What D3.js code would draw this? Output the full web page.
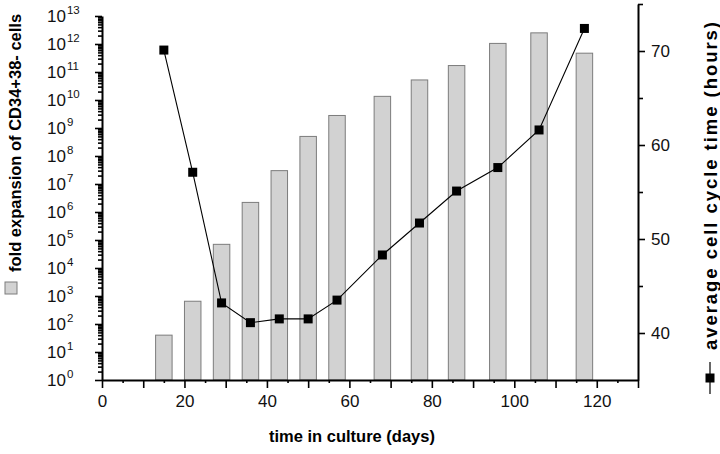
<!DOCTYPE html>
<html>
<head>
<meta charset="utf-8">
<script src="https://cdn.jsdelivr.net/npm/d3@7"></script>
<style>
  body { margin: 0; background: #fff; }
  svg { display: block; font-family: 'Liberation Sans', Arial, sans-serif; }
</style>
</head>
<body>
<script>
(function() {
  var days, foldExpansion, cycleTime, xLabelEvery, rightLabels, decades;
  var svg, x, yLeft, yRight, barColor, barStroke, xAxis, leftAxis, rightAxis, logTicks, line;

  // values
  days = [15, 22, 29, 36, 43, 50, 57, 68, 77, 86, 96, 106, 117];
  foldExpansion = [40, 650, 7e4, 2.2e6, 3e7, 5e8, 2.8e9, 1.35e10, 5.2e10, 1.7e11, 1.05e12, 2.5e12, 4.7e11];
  cycleTime = [70.1, 57.1, 43.2, 41.1, 41.5, 41.5, 43.5, 48.3, 51.7, 55.1, 57.6, 61.6, 72.4];
  xLabelEvery = 20;
  rightLabels = [40, 50, 60, 70];
  decades = d3.range(0, 14);

  barColor = '#d2d2d2';
  barStroke = '#7c7c7c';

  svg = d3.select('body').append('svg').attr('width', 720).attr('height', 454);

  x = d3.scaleLinear().domain([0, 130]).range([102, 638]);
  yLeft = d3.scaleLog().domain([1, 1e13]).range([380, 16]);
  yRight = d3.scaleLinear().domain([35, 75]).range([380, 4]);

  // bars, 4 days wide
  svg.append('g').selectAll('rect').data(days).enter().append('rect')
    .attr('x', function(d) { return x(d - 2); })
    .attr('width', x(4) - x(0))
    .attr('y', function(d, i) { return yLeft(foldExpansion[i]); })
    .attr('height', function(d, i) { return yLeft(1) - yLeft(foldExpansion[i]); })
    .attr('fill', barColor)
    .attr('stroke', barStroke)
    .attr('stroke-width', 1);

  // bottom axis
  xAxis = svg.append('g').attr('transform', 'translate(0,' + yLeft(1) + ')')
    .call(d3.axisBottom(x).tickValues(d3.range(0, 131, 5)).tickSizeOuter(0)
      .tickFormat(function(d) { return d % xLabelEvery === 0 ? d : ''; }));
  xAxis.selectAll('.tick line').attr('y2', function(d) { return d % 10 === 0 ? 8 : 3; });
  xAxis.selectAll('.tick text').attr('y', 15).attr('font-size', 17).attr('font-family', null);

  // left log axis
  logTicks = [];
  decades.forEach(function(k) {
    var m;
    for (m = 1; m <= 9; m++) {
      if (k === 13 && m > 1) break;
      logTicks.push(m * Math.pow(10, k));
    }
  });
  leftAxis = svg.append('g').attr('transform', 'translate(' + x(0) + ',0)')
    .call(d3.axisLeft(yLeft).tickValues(logTicks).tickSizeOuter(0).tickFormat(''));
  leftAxis.selectAll('.tick line').attr('x2', function(d) {
    var e = Math.log10(d);
    return Math.abs(e - Math.round(e)) < 1e-9 ? -7 : -4;
  });

  svg.append('g').selectAll('text').data(decades).enter().append('text')
    .attr('x', 47)
    .attr('y', function(k) { return yLeft(Math.pow(10, k)) + 6; })
    .attr('font-size', 17)
    .attr('fill', '#111')
    .each(function(k) {
      var t = d3.select(this);
      t.append('tspan').text('10');
      t.append('tspan').attr('dx', 1).attr('dy', -8).attr('font-size', 11.5).text(k);
    });

  // right axis
  rightAxis = svg.append('g').attr('transform', 'translate(' + x(130) + ',0)')
    .call(d3.axisRight(yRight).tickValues(d3.range(40, 76, 5)).tickSizeOuter(0)
      .tickFormat(function(d) { return rightLabels.indexOf(d) >= 0 ? d : ''; }));
  rightAxis.selectAll('.tick line').attr('x2', function(d) { return rightLabels.indexOf(d) >= 0 ? 7 : 5; });
  rightAxis.selectAll('.tick text').attr('x', 13).attr('font-size', 17).attr('font-family', null);

  [xAxis, leftAxis, rightAxis].forEach(function(g) {
    g.select('.domain').attr('stroke-width', 2);
    g.selectAll('.tick line').attr('stroke-width', 1.6);
    g.attr('font-family', null).attr('font-size', null);
    g.selectAll('.tick text').attr('fill', '#111');
  });

  // cycle time line
  line = d3.line()
    .x(function(d, i) { return x(days[i]); })
    .y(function(d) { return yRight(d); });
  svg.append('path').datum(cycleTime)
    .attr('d', line)
    .attr('fill', 'none')
    .attr('stroke', '#000')
    .attr('stroke-width', 1.1);
  svg.append('g').selectAll('rect').data(cycleTime).enter().append('rect')
    .attr('x', function(d, i) { return x(days[i]) - 4.5; })
    .attr('y', function(d) { return yRight(d) - 4.5; })
    .attr('width', 9).attr('height', 9)
    .attr('fill', '#000');

  // titles
  svg.append('text')
    .attr('x', 352)
    .attr('y', 442)
    .attr('text-anchor', 'middle')
    .attr('font-size', 16.5).attr('font-weight', 'bold')
    .text('time in culture (days)');

  svg.append('text')
    .attr('transform', 'translate(21,272) rotate(-90)')
    .attr('font-size', 16.5).attr('font-weight', 'bold')
    .text('fold expansion of CD34+38- cells');
  svg.append('rect')
    .attr('x', 5).attr('y', 282).attr('width', 12).attr('height', 12)
    .attr('fill', barColor).attr('stroke', barStroke);

  svg.append('text')
    .attr('transform', 'translate(717,350) rotate(-90)')
    .attr('font-size', 18.5).attr('font-weight', 'bold')
    .attr('textLength', 328).attr('lengthAdjust', 'spacing')
    .text('average cell cycle time (hours)');
  svg.append('line')
    .attr('x1', 710).attr('x2', 710).attr('y1', 362).attr('y2', 394)
    .attr('stroke', '#000').attr('stroke-width', 1.2);
  svg.append('rect')
    .attr('x', 705.5).attr('y', 373.5).attr('width', 9).attr('height', 9)
    .attr('fill', '#000');
}).call(this);
</script>
</body>
</html>
